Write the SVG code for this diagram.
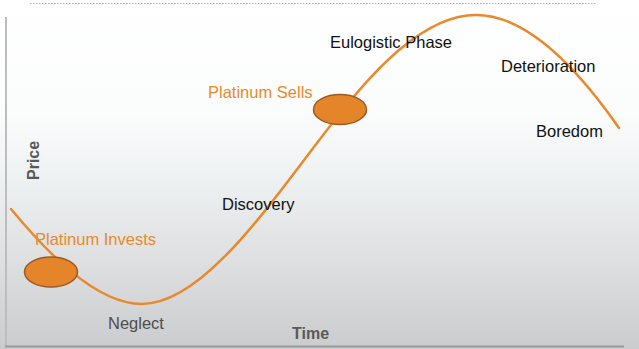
<svg xmlns="http://www.w3.org/2000/svg" width="639" height="349" viewBox="0 0 639 349">
  <defs>
    <linearGradient id="bg" x1="0" y1="0" x2="0" y2="1">
      <stop offset="0" stop-color="#ffffff"/>
      <stop offset="0.33" stop-color="#fbfcfc"/>
      <stop offset="0.5" stop-color="#eff2f3"/>
      <stop offset="1" stop-color="#cbcccd"/>
    </linearGradient>
  </defs>
  <style>
    .lbl { font-family: "Liberation Sans", Arial, sans-serif; font-size: 16.5px; fill: #111; }
    .org { font-family: "Liberation Sans", Arial, sans-serif; font-size: 16.5px; fill: #e8892c; }
    .axl { font-family: "Liberation Sans", Arial, sans-serif; font-size: 16px; font-weight: bold; fill: #595959; }
    .curve { fill: none; stroke: #e8892c; stroke-width: 2.5; stroke-linecap: round; }
    .dot { fill: #e5852a; stroke: #9c5a26; stroke-width: 1.5; }
  </style>
  <rect x="0" y="0" width="639" height="349" fill="url(#bg)"/>
  <line x1="30" y1="3.5" x2="596" y2="3.5" stroke="#b0b0b0" stroke-width="1" stroke-dasharray="1.5,1.5"/>
  <g id="axes">
    <line x1="6" y1="17" x2="6" y2="347" stroke="#bdbdbd" stroke-width="2"/>
    <line x1="5" y1="346.5" x2="624" y2="346.5" stroke="#999a9b" stroke-width="2"/>
  </g>
  <g id="connectors">
    <path class="curve" d="M11,209 C45,250 95,304 142,304 C210,304 285,180 346,106 C372,74 423,15 476,15 C528,15 580,72 619,128"/>
  </g>
  <g id="node-invests">
    <ellipse class="dot" cx="51" cy="272" rx="26.5" ry="15"/>
    <text class="org" x="35" y="245">Platinum Invests</text>
  </g>
  <g id="node-sells">
    <ellipse class="dot" cx="340" cy="109.5" rx="26.5" ry="15"/>
    <text class="org" x="208" y="98">Platinum Sells</text>
  </g>
  <g id="labels">
    <text class="lbl" x="330" y="48">Eulogistic Phase</text>
    <text class="lbl" x="501" y="72">Deterioration</text>
    <text class="lbl" x="536" y="137">Boredom</text>
    <text class="lbl" x="222" y="210">Discovery</text>
    <text class="lbl" x="108" y="329" style="fill:#4d4d4d">Neglect</text>
    <text class="axl" x="292" y="339">Time</text>
    <text class="axl" transform="translate(39,180) rotate(-90)" x="0" y="0">Price</text>
  </g>
</svg>
